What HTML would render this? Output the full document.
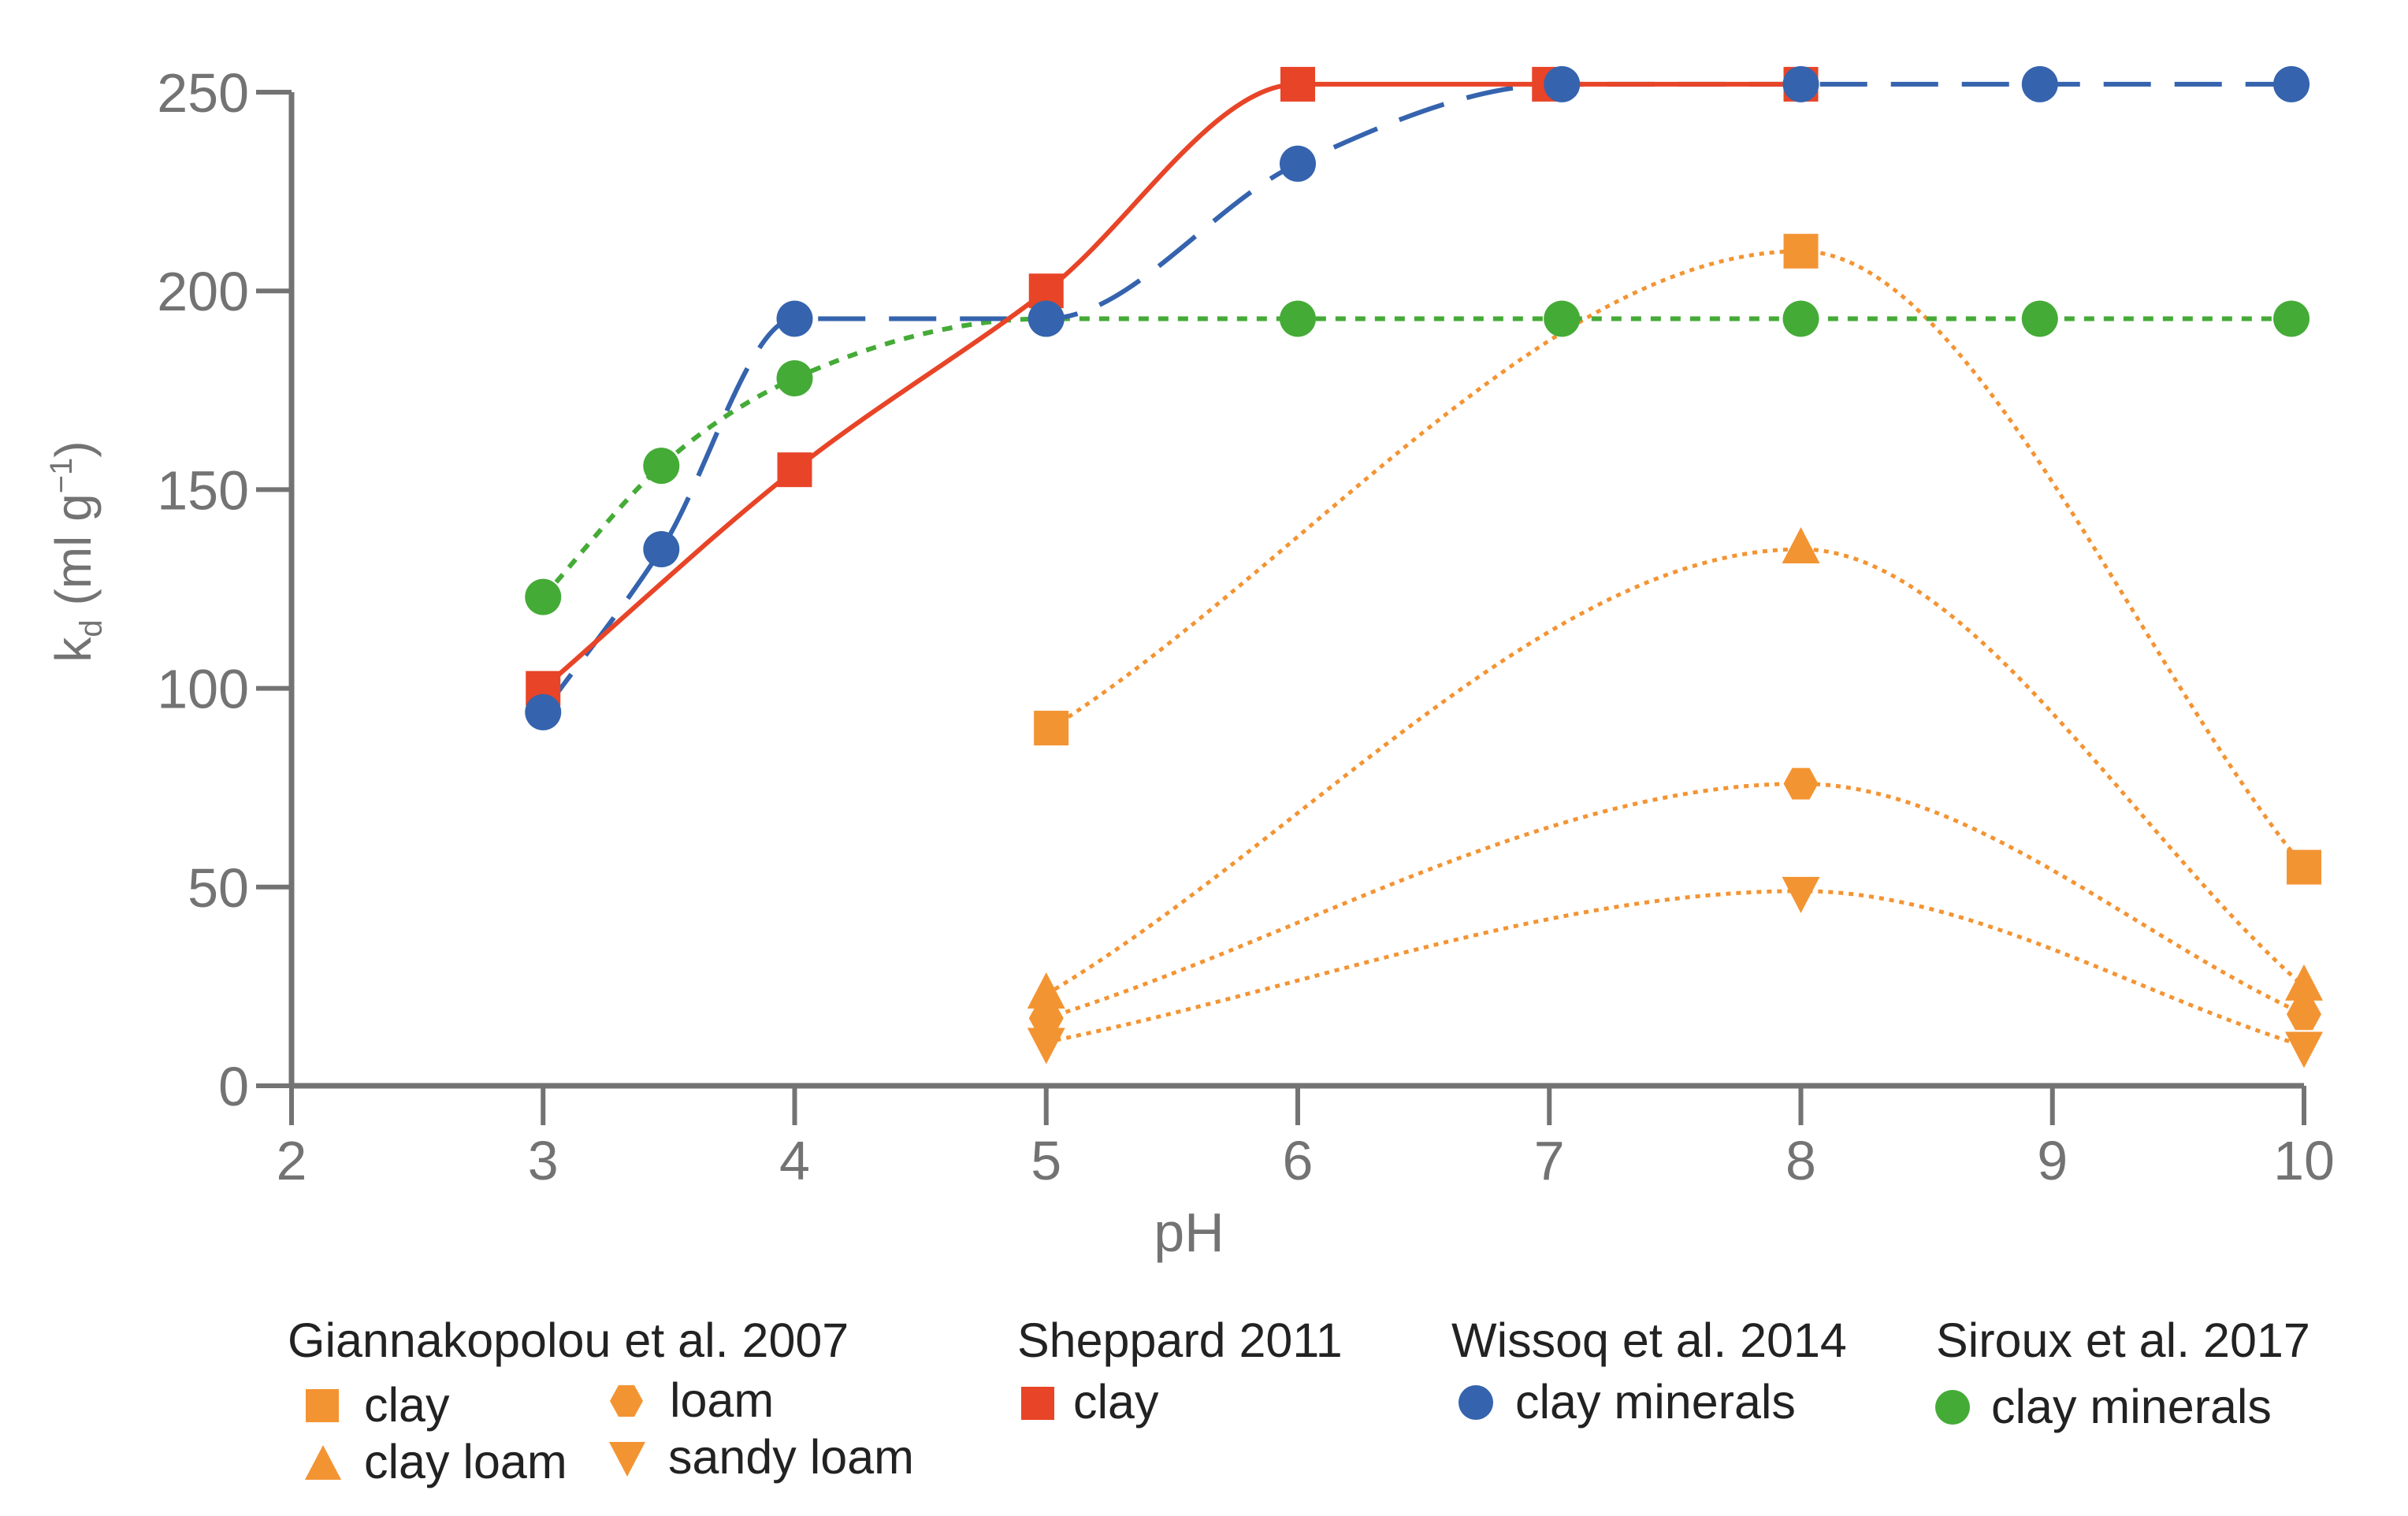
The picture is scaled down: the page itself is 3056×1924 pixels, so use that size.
<!DOCTYPE html>
<html><head><meta charset="utf-8"><style>
html,body{margin:0;padding:0;background:#fff;}
svg{display:block;font-family:"Liberation Sans",sans-serif;}
</style></head><body>
<svg id="chart" width="3056" height="1924" viewBox="0 0 3056 1924" xmlns="http://www.w3.org/2000/svg">
<g id="axes"></g>
<g id="series"></g>
<text x="1509" y="1588" font-size="70" fill="#737373" text-anchor="middle">pH</text>
<text transform="translate(115,700) rotate(-90)" font-size="64" fill="#737373" text-anchor="middle">k<tspan font-size="40" dy="14">d</tspan><tspan dy="-14"> (ml g</tspan><tspan font-size="40" dy="-24">−1</tspan><tspan dy="24">)</tspan></text>
<g id="legend" font-size="61" fill="#222">
 <text x="365" y="1722">Giannakopolou et al. 2007</text>
 <text x="1291" y="1722">Sheppard 2011</text>
 <text x="1842" y="1722">Wissoq et al. 2014</text>
 <text x="2457" y="1722">Siroux et al. 2017</text>
 <g><rect x="388" y="1763" width="42" height="42" fill="#F39433"/><text x="462" y="1804">clay</text></g>
 <g><polygon points="774,1778 785,1758 805,1758 816,1778 805,1798 785,1798" fill="#F39433"/><text x="850" y="1798">loam</text></g>
 <g><polygon points="410,1834 387,1878 433,1878" fill="#F39433"/><text x="462" y="1876">clay loam</text></g>
 <g><polygon points="773,1830 819,1830 796,1874" fill="#F39433"/><text x="848" y="1870">sandy loam</text></g>
 <g><rect x="1296" y="1760" width="42" height="42" fill="#E84427"/><text x="1362" y="1800">clay</text></g>
 <g><circle cx="1873" cy="1780" r="22" fill="#3563AE"/><text x="1923" y="1800">clay minerals</text></g>
 <g><circle cx="2478" cy="1786" r="22" fill="#45AB37"/><text x="2527" y="1806">clay minerals</text></g>
</g>
</svg>
<script>
const xTicks = [2,3,4,5,6,7,8,9,10];
const yTicks = [0,50,100,150,200,250];
const sheppardX = [3,4,5,6,7,8];
const sheppardY = [100,155,200,252,252,252];
const wissoqX = [3,3.47,4,5,6,7.05,8,8.95,9.95];
const wissoqY = [94,135,193,193,232,252,252,252,252];
const sirouxX = [3,3.47,4,5,6,7.05,8,8.95,9.95];
const sirouxY = [123,156,178,193,193,193,193,193,193];
const gClayX = [5.02,8,10]; const gClayY = [90,210,55];
const gClayLoamX = [5,8,10]; const gClayLoamY = [23,135,25];
const gLoamX = [5,8,10]; const gLoamY = [17,76,18];
const gSandyX = [5,8,10]; const gSandyY = [11,49,10];

const NS="http://www.w3.org/2000/svg";
const X0=370,X1=2924,Y0=1378,Y1=117;
function sx(v){return X0+(v-2)/8*(X1-X0);}
function sy(v){return Y0-v/250*(Y0-Y1);}
function mk(tag,attrs,parent){const e=document.createElementNS(NS,tag);for(const k in attrs)e.setAttribute(k,attrs[k]);parent.appendChild(e);return e;}
const axes=document.getElementById('axes'),ser=document.getElementById('series');
const gray="#737373";
let l=mk('line',{x1:X0,y1:Y0,x2:X1,y2:Y0,stroke:gray,'stroke-width':7},axes);


l=mk('line',{x1:X0,y1:Y0+3,x2:X0,y2:Y1,stroke:gray,'stroke-width':7},axes);


xTicks.forEach(t=>{
 const tk=mk('line',{x1:sx(t),y1:Y0,x2:sx(t),y2:Y0+50,stroke:gray,'stroke-width':6},axes);
 
 
 const tx=mk('text',{x:sx(t),y:1497,'font-size':70,fill:gray,'text-anchor':'middle'},axes);
 tx.textContent=t;
 
 
});
yTicks.forEach(t=>{
 const tk=mk('line',{x1:X0,y1:sy(t),x2:X0-45,y2:sy(t),stroke:gray,'stroke-width':6},axes);
 
 
 const tx=mk('text',{x:316,y:sy(t)+25,'font-size':70,fill:gray,'text-anchor':'end'},axes);
 tx.textContent=t;
 
 
});
function path(xs,ys){
 // monotone cubic (Fritsch-Carlson)
 const p=xs.map((x,i)=>[sx(x),sy(ys[i])]);
 const n=p.length,d=[],m=[];
 for(let i=0;i<n-1;i++)d.push((p[i+1][1]-p[i][1])/(p[i+1][0]-p[i][0]));
 m[0]=d[0];m[n-1]=d[n-2];
 for(let i=1;i<n-1;i++){m[i]=(d[i-1]*d[i]<=0)?0:(d[i-1]+d[i])/2;}
 for(let i=0;i<n-1;i++){
  if(d[i]===0){m[i]=0;m[i+1]=0;continue;}
  const a=m[i]/d[i],b=m[i+1]/d[i],s=a*a+b*b;
  if(s>9){const t=3/Math.sqrt(s);m[i]=t*a*d[i];m[i+1]=t*b*d[i];}
 }
 let str=`M${p[0][0]},${p[0][1]}`;
 for(let i=0;i<n-1;i++){
  const h=(p[i+1][0]-p[i][0])/3;
  str+=` C${p[i][0]+h},${p[i][1]+m[i]*h} ${p[i+1][0]-h},${p[i+1][1]-m[i+1]*h} ${p[i+1][0]},${p[i+1][1]}`;
 }
 return str;
}
function line(xs,ys,color,w,dash,name){
 const e=mk('path',{d:path(xs,ys),fill:'none',stroke:color,'stroke-width':w,'stroke-dasharray':dash},ser);
 
 
}
function markers(xs,ys,color,shape,name){
 xs.forEach((x,i)=>{
  const cx=sx(x),cy=sy(ys[i]);let e;
  if(shape==='circle')e=mk('circle',{cx,cy,r:23,fill:color},ser);
  else if(shape==='square')e=mk('rect',{x:cx-22,y:cy-22,width:44,height:44,fill:color},ser);
  else if(shape==='tri')e=mk('polygon',{points:`${cx},${cy-28} ${cx-24},${cy+18} ${cx+24},${cy+18}`,fill:color},ser);
  else if(shape==='tridown')e=mk('polygon',{points:`${cx-24},${cy-18} ${cx+24},${cy-18} ${cx},${cy+28}`,fill:color},ser);
  else e=mk('polygon',{points:`${cx-22},${cy} ${cx-11},${cy-20} ${cx+11},${cy-20} ${cx+22},${cy} ${cx+11},${cy+20} ${cx-11},${cy+20}`,fill:color},ser);
  
  
 });
}
const OR="#F39433";
line(gClayX,gClayY,OR,5,'6 7','line-g-clay');
line(gClayLoamX,gClayLoamY,OR,5,'6 7','line-g-clay-loam');
line(gLoamX,gLoamY,OR,5,'6 7','line-g-loam');
line(gSandyX,gSandyY,OR,5,'6 7','line-g-sandy-loam');
line(sirouxX,sirouxY,"#45AB37",6,'13 12','line-siroux');
line(wissoqX,wissoqY,"#3563AE",6,'60 30','line-wissoq');
line(sheppardX,sheppardY,"#E84427",6,'none','line-sheppard');
markers(gClayX,gClayY,OR,'square','point-g-clay');
markers(gClayLoamX,gClayLoamY,OR,'tri','point-g-clay-loam');
markers(gLoamX,gLoamY,OR,'hex','point-g-loam');
markers(gSandyX,gSandyY,OR,'tridown','point-g-sandy-loam');
markers(sheppardX,sheppardY,"#E84427",'square','point-sheppard');
markers(sirouxX,sirouxY,"#45AB37",'circle','point-siroux');
markers(wissoqX,wissoqY,"#3563AE",'circle','point-wissoq');
</script>
</body></html>
